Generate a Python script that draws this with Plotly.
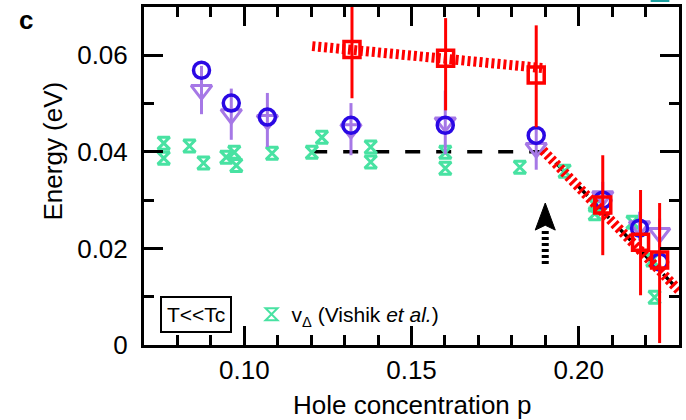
import plotly.graph_objects as go

# Gap velocity energies, Vishik et al.
p_vishik = [0.0759, 0.0759, 0.0836, 0.0878, 0.0946, 0.0970, 0.0976, 0.1083, 0.1202,
            0.1232, 0.1378, 0.1378, 0.1601, 0.1601, 0.1824, 0.1958, 0.2048, 0.2048,
            0.2161, 0.2220, 0.2227]
e_vishik = [0.0418, 0.0387, 0.0412, 0.0377, 0.0389, 0.0399, 0.0372, 0.0397, 0.0399,
            0.0430, 0.0410, 0.0379, 0.0399, 0.0366, 0.0368, 0.0360, 0.0290, 0.0272,
            0.0254, 0.0176, 0.0099]

# Open circles and down-triangles (with error bars)
p_circ = [0.0872, 0.0961, 0.1069, 0.1319, 0.1601, 0.1873, 0.2072, 0.2182, 0.2242]
e_circ = [0.0569, 0.0501, 0.0472, 0.0455, 0.0455, 0.0434, 0.0300, 0.0242, 0.0172]
e_tri = [0.0528, 0.0478, 0.0466, 0.0447, 0.0461, 0.0408, 0.0308, 0.0246, 0.0232]
err_tri = [0.0050, 0.0053, 0.0056, 0.0054, 0.0066, 0.0045, 0.0030, 0.0030, 0.0030]

# Open squares with asymmetric error bars
p_sq = [0.1322, 0.1602, 0.1873, 0.2072, 0.2185, 0.2242]
e_sq = [0.0612, 0.0594, 0.0559, 0.0290, 0.0213, 0.0176]
err_sq_up = [0.0098, 0.0083, 0.0103, 0.0103, 0.0108, 0.0118]
err_sq_dn = [0.0101, 0.0108, 0.0108, 0.0104, 0.0110, 0.0172]

# Linear trends
fit_hi_p = [0.1203, 0.1900]
fit_hi_e = [0.0619, 0.0573]
fit_lo_p = [0.1893, 0.2300]
fit_lo_e = [0.0403, 0.0113]
guide_p = [0.1203, 0.1900, 0.2300]
guide_e = [0.0400, 0.0400, 0.0113]

# Arrow marking p*
arrow_p = 0.19
arrow_tail = 0.0168
arrow_neck = 0.0240
arrow_tip = 0.0294
arrow_half = 0.003

x_ticks = [0.10, 0.15, 0.20]
x_ticktext = ["0.10", "0.15", "0.20"]
y_ticks = [0, 0.02, 0.04, 0.06]
y_ticktext = ["0", "0.02", "0.04", "0.06"]

GREEN = "#48e2a2"
PURPLE = "#a678e6"
BLUE = "#2a08e4"
RED = "#ff0000"
FONT = "Arial, Liberation Sans, sans-serif"

fig = go.Figure()

# black guide line
fig.add_trace(go.Scatter(x=guide_p, y=guide_e, mode="lines",
                         line=dict(color="black", width=3.5, dash="15px,16px"),
                         showlegend=False, hoverinfo="skip"))

fig.add_trace(go.Scatter(x=p_vishik, y=e_vishik, mode="markers",
                         name="v<sub>Δ</sub> (Vishik <i>et al.</i>)",
                         marker=dict(symbol="hourglass-open", size=12, color=GREEN,
                                     line=dict(width=3, color=GREEN)),
                         showlegend=True, cliponaxis=False))

fig.add_trace(go.Scatter(x=p_circ, y=e_tri, mode="markers",
                         marker=dict(symbol="triangle-down-open", size=18, color=PURPLE,
                                     line=dict(width=3, color=PURPLE)),
                         error_y=dict(type="data", array=err_tri, color=PURPLE,
                                      thickness=3, width=0),
                         showlegend=False, cliponaxis=False))

fig.add_trace(go.Scatter(x=p_circ, y=e_circ, mode="markers",
                         marker=dict(symbol="circle-open", size=16, color=BLUE,
                                     line=dict(width=3.5, color=BLUE)),
                         showlegend=False, cliponaxis=False))

fig.add_trace(go.Scatter(x=fit_hi_p, y=fit_hi_e, mode="lines",
                         line=dict(color=RED, width=10, dash="3px,3px"),
                         showlegend=False, hoverinfo="skip"))
fig.add_trace(go.Scatter(x=fit_lo_p, y=fit_lo_e, mode="lines",
                         line=dict(color=RED, width=10, dash="3px,3px"),
                         showlegend=False, hoverinfo="skip"))

fig.add_trace(go.Scatter(x=p_sq, y=e_sq, mode="markers",
                         marker=dict(symbol="square-open", size=16, color=RED,
                                     line=dict(width=3.5, color=RED)),
                         error_y=dict(type="data", symmetric=False, array=err_sq_up,
                                      arrayminus=err_sq_dn, color=RED, thickness=3, width=0),
                         showlegend=False, cliponaxis=False))

# arrow: dashed shaft + filled head
fig.add_trace(go.Scatter(x=[arrow_p, arrow_p], y=[arrow_tail, arrow_neck], mode="lines",
                         line=dict(color="black", width=7, dash="3px,3px"),
                         showlegend=False, hoverinfo="skip"))
fig.add_trace(go.Scatter(x=[arrow_p - arrow_half, arrow_p, arrow_p + arrow_half, arrow_p, arrow_p - arrow_half],
                         y=[arrow_neck - 0.0002, arrow_tip, arrow_neck - 0.0002, arrow_neck + 0.0008, arrow_neck - 0.0002],
                         mode="lines", fill="toself", fillcolor="black",
                         line=dict(color="black", width=1),
                         showlegend=False, hoverinfo="skip"))

axis_common = dict(showline=True, linecolor="black", linewidth=3, mirror="ticks",
                   ticks="inside", ticklen=19, tickwidth=3, tickcolor="black",
                   showgrid=False, zeroline=False,
                   tickfont=dict(family=FONT, size=26, color="black"),
                   minor=dict(ticks="inside", ticklen=10, tickwidth=3, tickcolor="black",
                              dtick=0.01, showgrid=False))

fig.update_xaxes(range=[0.07, 0.23], tickvals=x_ticks, ticktext=x_ticktext,
                 ticklabelstandoff=0, **axis_common)
fig.update_yaxes(range=[0, 0.07], tickvals=y_ticks, ticktext=y_ticktext,
                 ticklabelstandoff=8, **axis_common)

fig.update_layout(
    width=686, height=420,
    margin=dict(l=144, r=4, t=7, b=75),
    paper_bgcolor="white", plot_bgcolor="white",
    font=dict(family=FONT, color="black"),
    showlegend=True,
    legend=dict(x=0.201, y=0.09, xanchor="left", yanchor="middle",
                bgcolor="rgba(0,0,0,0)", font=dict(family=FONT, size=21, color="black"),
                itemsizing="constant"),
    annotations=[
        dict(text="Hole concentration p", xref="paper", yref="paper", x=0.5, y=-0.178,
             xanchor="center", yanchor="middle", showarrow=False,
             font=dict(family=FONT, size=26, color="black")),
        dict(text="Energy (eV)", xref="paper", yref="paper", x=-0.171, y=0.574,
             xanchor="center", yanchor="middle", textangle=-90, showarrow=False,
             font=dict(family=FONT, size=26, color="black")),
        dict(text="<b>c</b>", xref="paper", yref="paper", x=-0.221, y=0.962,
             xanchor="center", yanchor="middle", showarrow=False,
             font=dict(family=FONT, size=26, color="black")),
        dict(text="T&lt;&lt;Tc", xref="paper", yref="paper", x=0.0977, y=0.0917,
             xanchor="center", yanchor="middle", showarrow=False,
             bordercolor="black", borderwidth=2, borderpad=5, bgcolor="white",
             font=dict(family=FONT, size=21, color="black")),
    ],
    shapes=[
        dict(type="rect", xref="paper", yref="paper", x0=0.947, x1=0.982,
             y0=1.0148, y1=1.04, fillcolor="#1aa0a0", line=dict(width=0)),
    ],
)

fig.write_html("out.html")
